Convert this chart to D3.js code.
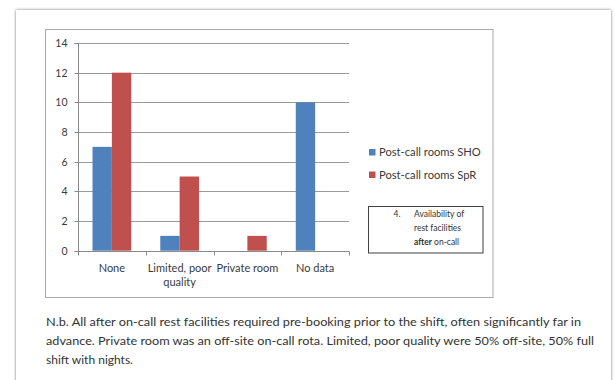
<!DOCTYPE html>
<html>
<head>
<meta charset="utf-8">
<script src="https://cdn.jsdelivr.net/npm/d3@7"></script>
<style>
  html, body { margin: 0; padding: 0; background: #ffffff; }
  svg { display: block; }
  text { font-family: Lato, "Open Sans", sans-serif; }
</style>
</head>
<body>
<svg id="chart" width="615" height="380"></svg>
<script>
// Rest facilities available after on-call, by grade
const categories = ["None", "Limited, poor\nquality", "Private room", "No data"];
const seriesNames = ["Post-call rooms SHO", "Post-call rooms SpR"];
const shoValues = [7, 1, 0, 10];
const sprValues = [12, 5, 1, 0];
const yTicks = [0, 2, 4, 6, 8, 10, 12, 14];
const seriesColors = ["#4F81BD", "#C0504D"];
const noteLines = [
  "N.b. All after on-call rest facilities required pre-booking prior to the shift, often significantly far in",
  "advance. Private room was an off-site on-call rota. Limited, poor quality were 50% off-site, 50% full",
  "shift with nights."
];

const svg = d3.select("#chart");

// page card with a soft edge shadow
const defs = svg.append("defs");
const sh = defs.append("filter").attr("id", "cardShadow")
  .attr("x", "-5%").attr("y", "-5%").attr("width", "110%").attr("height", "110%");
sh.append("feDropShadow").attr("dx", 0).attr("dy", 0)
  .attr("stdDeviation", 1.6).attr("flood-color", "#000").attr("flood-opacity", 0.55);

svg.append("rect")
  .attr("x", 16).attr("y", 10).attr("width", 595).attr("height", 400)
  .attr("fill", "#ffffff").attr("filter", "url(#cardShadow)");

// chart frame
svg.append("rect")
  .attr("x", 45.5).attr("y", 29.5).attr("width", 447.5).attr("height", 268)
  .attr("fill", "#ffffff").attr("stroke", "#a9a9a9").attr("stroke-width", 1);

// scales
const plot = { left: 78, right: 349, top: 43, bottom: 250.7 };
const x = d3.scaleBand().domain(categories).range([plot.left, plot.right]).paddingInner(0).paddingOuter(0);
const xs = d3.scaleBand().domain(seriesNames).range([0, x.bandwidth()]).paddingInner(0).paddingOuter(0.75);
const y = d3.scaleLinear().domain([0, 14]).range([plot.bottom, plot.top]);

// gridlines
svg.append("g").selectAll("line").data(yTicks.filter(d => d > 0)).join("line")
  .attr("x1", plot.left).attr("x2", plot.right)
  .attr("y1", d => Math.round(y(d)) + 0.5).attr("y2", d => Math.round(y(d)) + 0.5)
  .attr("stroke", "#9a9a9a").attr("stroke-width", 1);

// bars
const rows = categories.map((c, i) => ({ cat: c, vals: [shoValues[i], sprValues[i]] }));
const groups = svg.append("g").selectAll("g").data(rows).join("g")
  .attr("transform", d => `translate(${x(d.cat)},0)`);
groups.selectAll("rect")
  .data(d => d.vals.map((v, k) => ({ v, k })).filter(e => e.v > 0))
  .join("rect")
  .attr("x", e => xs(seriesNames[e.k]))
  .attr("width", xs.bandwidth())
  .attr("y", e => y(e.v))
  .attr("height", e => y(0) - y(e.v))
  .attr("fill", e => seriesColors[e.k]);

// y axis
const yAxis = d3.axisLeft(y).tickValues(yTicks).tickSize(4).tickPadding(7).tickFormat(d3.format("d"));
const yg = svg.append("g").attr("transform", `translate(${plot.left + 0.5},0)`).call(yAxis);
yg.select(".domain").attr("stroke", "#8a8a8a").attr("d", `M-4,${Math.round(plot.top) + 0.5}H0V${Math.round(plot.bottom) + 0.5}H-4`);
yg.selectAll(".tick line").attr("stroke", "#8a8a8a");
yg.selectAll(".tick").attr("transform", d => `translate(0,${Math.round(y(d)) + 0.5})`);
yg.selectAll(".tick text").attr("fill", "#3a3a3a").attr("font-size", 10.5)
  .attr("font-family", "Lato, sans-serif");

// x axis with category separators
const xg = svg.append("g").attr("transform", `translate(0,${Math.round(plot.bottom) + 0.5})`);
xg.append("line").attr("x1", plot.left).attr("x2", plot.right).attr("stroke", "#8a8a8a");
const bounds = categories.map(c => x(c)).concat([plot.right]);
xg.selectAll("line.sep").data(bounds).join("line").attr("class", "sep")
  .attr("x1", d => Math.round(d) + 0.5).attr("x2", d => Math.round(d) + 0.5)
  .attr("y1", 0).attr("y2", 4).attr("stroke", "#8a8a8a");
const catText = xg.selectAll("text.cat").data(categories).join("text").attr("class", "cat")
  .attr("x", d => x(d) + x.bandwidth() / 2)
  .attr("y", 20)
  .attr("text-anchor", "middle")
  .attr("font-size", 11)
  .attr("fill", "#3a3a3a");
catText.each(function (d) {
  const t = d3.select(this);
  d.split("\n").forEach((line, i) => {
    t.append("tspan").attr("x", x(d) + x.bandwidth() / 2).attr("dy", i === 0 ? 0 : 14).text(line);
  });
});

// legend
const legend = svg.append("g").selectAll("g").data(seriesNames).join("g")
  .attr("transform", (d, i) => `translate(369,${149 + i * 22.5})`);
legend.append("rect").attr("width", 6.5).attr("height", 6.5).attr("fill", (d, i) => seriesColors[i]);
legend.append("text").attr("x", 10).attr("y", 7).attr("font-size", 11.2)
  .attr("fill", "#3a3a3a").text(d => d);

// caption box
const box = svg.append("g").attr("transform", "translate(368.5,206.5)");
box.append("rect").attr("width", 114.5).attr("height", 46.5)
  .attr("fill", "#ffffff").attr("stroke", "#404040").attr("stroke-width", 1);
box.append("text").attr("x", 25).attr("y", 10).attr("font-size", 8.5).attr("fill", "#333").text("4.");
const boxLines = box.append("text").attr("font-size", 8.5).attr("fill", "#333");
boxLines.append("tspan").attr("x", 45.5).attr("y", 10).text("Availability of");
boxLines.append("tspan").attr("x", 45.5).attr("y", 24).text("rest facilities");
const last = boxLines.append("tspan").attr("x", 45.5).attr("y", 38);
last.append("tspan").attr("font-weight", "bold").text("after");
last.append("tspan").text(" on-call");

// note below the chart
const noteWidths = [535, 548, null];
svg.append("g").selectAll("text").data(noteLines).join("text")
  .attr("x", 46)
  .attr("y", (d, i) => 326 + i * 19)
  .attr("font-size", 12)
  .attr("fill", "#333333")
  .each(function (d, i) {
    if (noteWidths[i]) d3.select(this).attr("textLength", noteWidths[i]).attr("lengthAdjust", "spacingAndGlyphs");
  })
  .text(d => d);
</script>
</body>
</html>
